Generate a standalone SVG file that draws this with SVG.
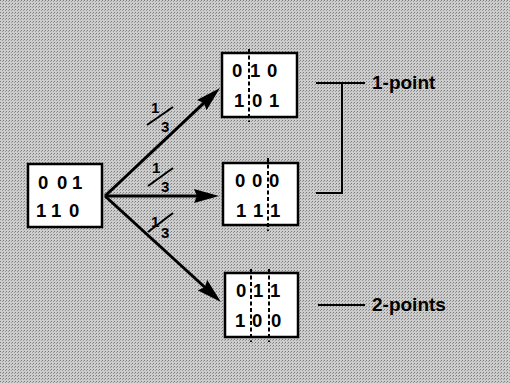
<svg xmlns="http://www.w3.org/2000/svg" width="510" height="383" viewBox="0 0 510 383">
  <style>
    .box { fill: #ffffff; stroke: #000; stroke-width: 2.5; }
    .bits { font-family: "Liberation Sans", Arial, sans-serif; font-size: 18.5px; font-weight: bold; fill: #000; }
    .frac { font-family: "Liberation Sans", Arial, sans-serif; font-size: 15px; font-weight: bold; fill: #000; }
    .lbl { font-family: "Liberation Sans", Arial, sans-serif; font-size: 19px; font-weight: bold; fill: #000; }
    .cut { stroke: #000; stroke-width: 2; stroke-dasharray: 4 2.5; fill: none; }
    .arrow { stroke: #000; stroke-width: 3; fill: none; marker-end: url(#head); }
    .thin { stroke: #000; stroke-width: 2; fill: none; }
  </style>
  <defs>
    <pattern id="half" width="3" height="3" patternUnits="userSpaceOnUse">
      <rect width="3" height="3" fill="#cdcdcd"/>
      <rect x="0" y="0" width="1" height="1" fill="#7a7a7a"/>
      <rect x="2" y="1" width="1" height="1" fill="#9a9a9a"/>
    </pattern>
    <marker id="head" markerUnits="userSpaceOnUse" markerWidth="26" markerHeight="14" refX="5" refY="7" orient="auto" viewBox="0 0 26 14">
      <path d="M0,0 L25,7 L0,14 L3,7 z" fill="#000"/>
    </marker>
  </defs>

  <rect x="0" y="0" width="510" height="383" fill="url(#half)"/>

  <g id="connectors">
    <line class="arrow" x1="105" y1="196" x2="205.4" y2="101.7"/>
    <line class="arrow" x1="105" y1="196" x2="199" y2="196"/>
    <line class="arrow" x1="105" y1="196" x2="206.2" y2="288.5"/>
    <g id="frac-top">
      <text class="frac" x="151" y="113">1</text>
      <line class="thin" x1="147" y1="125" x2="173" y2="107"/>
      <text class="frac" x="161" y="132">3</text>
    </g>
    <g id="frac-mid">
      <text class="frac" x="152" y="173">1</text>
      <line class="thin" x1="148" y1="186" x2="173" y2="168"/>
      <text class="frac" x="161" y="192">3</text>
    </g>
    <g id="frac-bot">
      <text class="frac" x="151" y="227">1</text>
      <line class="thin" x1="148" y1="232" x2="173" y2="213"/>
      <text class="frac" x="161" y="238">3</text>
    </g>
    <g id="bracket-1point">
      <polyline class="thin" points="316,83 342,83 342,193 316,193"/>
      <line class="thin" x1="342" y1="83" x2="365" y2="83"/>
    </g>
    <line id="line-2points" class="thin" x1="318" y1="305" x2="365" y2="305"/>
  </g>

  <g id="parent">
    <rect class="box" x="28" y="164" width="74" height="63"/>
    <text class="bits" x="38 57 72" y="189">001</text>
    <text class="bits" x="36 51 69" y="217">110</text>
  </g>

  <g id="child-top">
    <rect class="box" x="222" y="53" width="75" height="64"/>
    <line class="cut" x1="249" y1="49" x2="249" y2="122"/>
    <text class="bits" x="232 250 267" y="77">010</text>
    <text class="bits" x="234 252 269" y="107">101</text>
  </g>

  <g id="child-mid">
    <rect class="box" x="223" y="163" width="75" height="62"/>
    <line class="cut" x1="268" y1="158" x2="268" y2="231"/>
    <text class="bits" x="235 252 269" y="187">000</text>
    <text class="bits" x="236 253 270" y="217">111</text>
  </g>

  <g id="child-bot">
    <rect class="box" x="225" y="273" width="73" height="64"/>
    <line class="cut" x1="251" y1="269" x2="251" y2="342"/>
    <line class="cut" x1="269" y1="269" x2="269" y2="342"/>
    <text class="bits" x="236 253 270" y="297">011</text>
    <text class="bits" x="235 252 271" y="327">100</text>
  </g>

  <g id="label-1point">
    <text class="lbl" x="372" y="89">1-point</text>
  </g>
  <g id="label-2points">
    <text class="lbl" x="372" y="311">2-points</text>
  </g>
</svg>
